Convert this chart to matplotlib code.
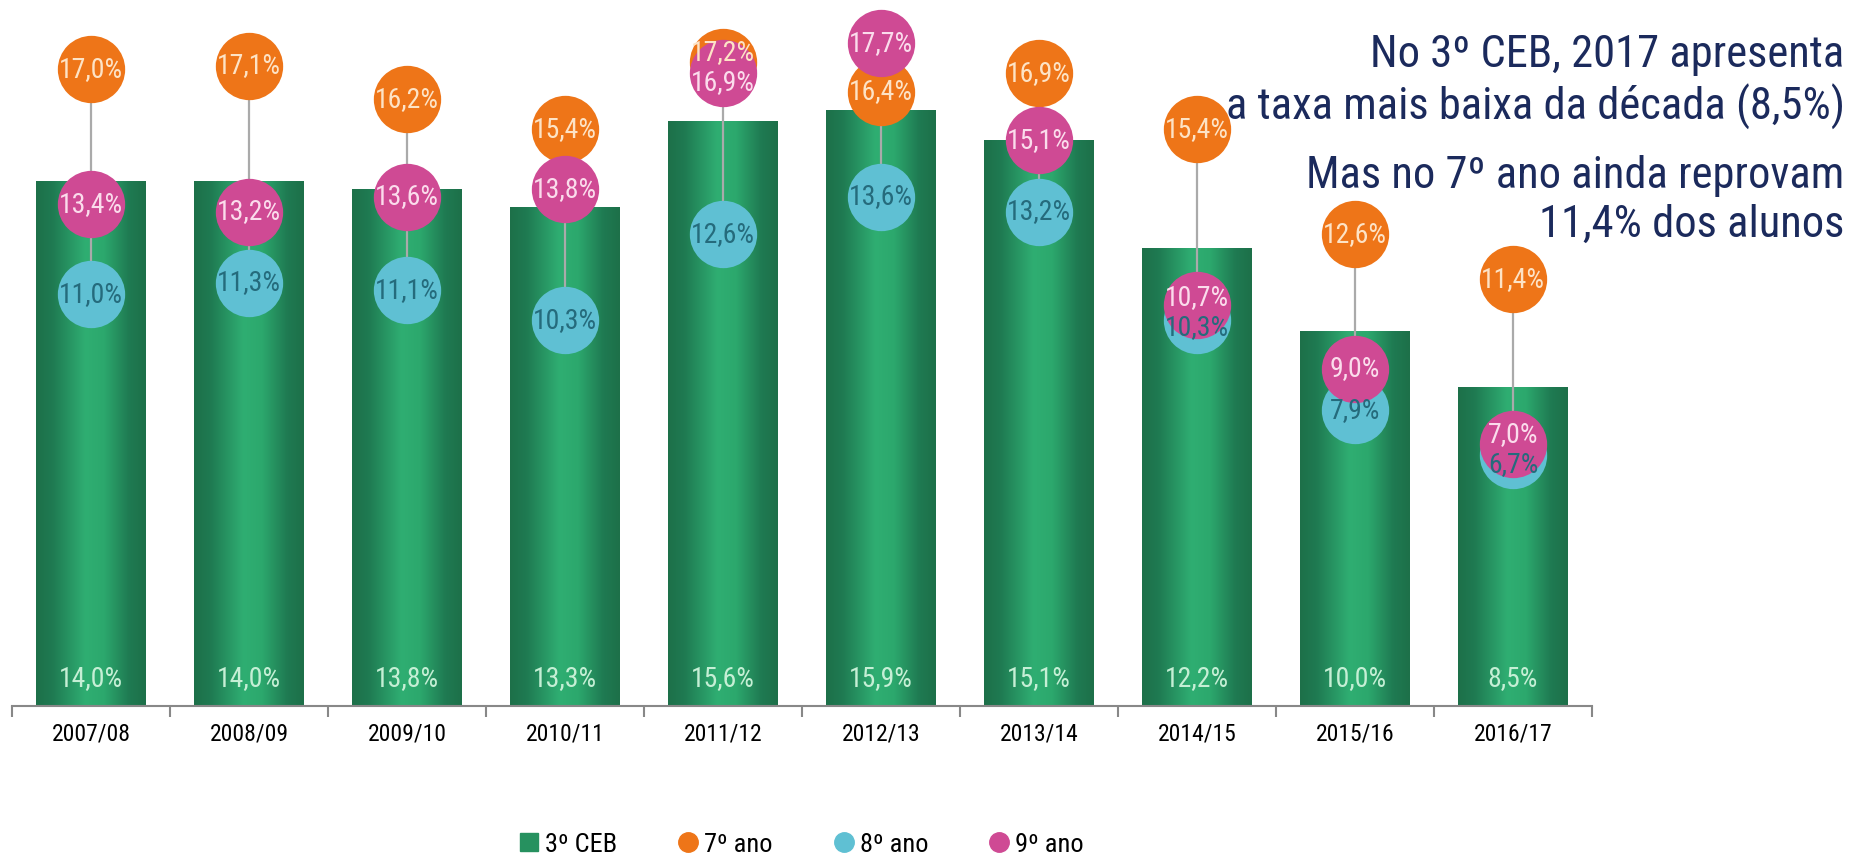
import numpy as np
import matplotlib.pyplot as plt
from matplotlib.colors import LinearSegmentedColormap
from matplotlib.lines import Line2D

# Dados
anos = ['2007/08', '2008/09', '2009/10', '2010/11', '2011/12',
        '2012/13', '2013/14', '2014/15', '2015/16', '2016/17']
ceb3 = [14.0, 14.0, 13.8, 13.3, 15.6, 15.9, 15.1, 12.2, 10.0, 8.5]
ano7 = [17.0, 17.1, 16.2, 15.4, 17.2, 16.4, 16.9, 15.4, 12.6, 11.4]
ano8 = [11.0, 11.3, 11.1, 10.3, 12.6, 13.6, 13.2, 10.3, 7.9, 6.7]
ano9 = [13.4, 13.2, 13.6, 13.8, 16.9, 17.7, 15.1, 10.7, 9.0, 7.0]

# Fonte estreita
plt.rcParams['font.family'] = ['Roboto Condensed', 'DejaVu Sans']
plt.rcParams['font.weight'] = 'normal'

cor7, cor8, cor9 = '#ee7518', '#5fc0d3', '#cf4a94'
txt7, txt8, txt9 = '#fde3c6', '#256b7c', '#fbdcec'

def fmt(v):
    return f'{v:.1f}%'.replace('.', ',')

fig = plt.figure(figsize=(18.69, 8.58), dpi=100)
ax = fig.add_axes([12 / 1869, 0.177, 1580 / 1869, 0.823])

x = np.arange(len(anos))
largura = 0.69

# Barras com gradiente horizontal
verde = LinearSegmentedColormap.from_list(
    'verde', [(0, '#1d7049'), (0.15, '#1f7a52'), (0.45, '#2fae72'),
              (0.62, '#2ca86d'), (0.85, '#1f7a52'), (1, '#1d7049')])
grad = np.linspace(0, 1, 256).reshape(1, -1)
barras = ax.bar(x, ceb3, width=largura, color='#26915f', zorder=1)
for b in barras:
    x0, w, h = b.get_x(), b.get_width(), b.get_height()
    ax.imshow(grad, cmap=verde, aspect='auto', extent=[x0, x0 + w, 0, h],
              zorder=1.5, interpolation='bicubic')

for i, v in enumerate(ceb3):
    ax.text(x[i], 0.75, fmt(v), ha='center', va='center', fontsize=20,
            color='#c5efd5', zorder=6)

# Linha vertical entre os anos
lo = np.minimum(np.minimum(ano7, ano8), ano9)
hi = np.maximum(np.maximum(ano7, ano8), ano9)
ax.vlines(x, lo, hi, color='#aaaaaa', lw=1.6, zorder=2)

s = 2350
ax.scatter(x, ano8, s=s, color=cor8, zorder=3, linewidths=0)
ax.scatter(x, ano7, s=s, color=cor7, zorder=4, linewidths=0)
ax.scatter(x, ano9, s=s, color=cor9, zorder=5, linewidths=0)

# Rótulos: afastar os que ficam quase sobrepostos
sep = 0.8
for i in range(len(anos)):
    pos = {'7': ano7[i], '8': ano8[i], '9': ano9[i]}
    ordem = sorted(pos, key=lambda k: pos[k])
    for a, b in zip(ordem[:-1], ordem[1:]):
        if pos[b] - pos[a] < sep:
            m = (pos[a] + pos[b]) / 2
            pos[a], pos[b] = m - sep / 2, m + sep / 2
    ax.text(x[i], pos['8'], fmt(ano8[i]), ha='center', va='center',
            fontsize=20, color=txt8, zorder=6)
    ax.text(x[i], pos['7'], fmt(ano7[i]), ha='center', va='center',
            fontsize=20, color=txt7, zorder=6)
    ax.text(x[i], pos['9'], fmt(ano9[i]), ha='center', va='center',
            fontsize=20, color=txt9, zorder=6)

ax.set_xlim(-0.5, len(anos) - 0.5)
ax.set_ylim(0, 18.85)
ax.set_xticks(x)
ax.set_xticklabels(anos, fontsize=17)
ax.set_xticks(np.arange(-0.5, len(anos)), minor=True)
ax.tick_params(axis='x', which='major', length=0, pad=12)
ax.tick_params(axis='x', which='minor', length=8, color='#888888', width=1.5)
ax.set_yticks([])
for lado in ['top', 'right', 'left']:
    ax.spines[lado].set_visible(False)
ax.spines['bottom'].set_color('#888888')
ax.spines['bottom'].set_linewidth(1.5)

# Texto de destaque
azul = '#1b2a5c'
fig.text(0.987, 0.936, 'No 3º CEB, 2017 apresenta', ha='right', va='center',
         fontsize=32, color=azul)
fig.text(0.987, 0.875, 'a taxa mais baixa da década (8,5%)', ha='right',
         va='center', fontsize=32, color=azul)
fig.text(0.987, 0.795, 'Mas no 7º ano ainda reprovam', ha='right',
         va='center', fontsize=32, color=azul)
fig.text(0.987, 0.738, '11,4% dos alunos', ha='right', va='center',
         fontsize=32, color=azul)

# Legenda
handles = [
    Line2D([], [], marker='s', ls='', color='#26915f', markersize=13),
    Line2D([], [], marker='o', ls='', color=cor7, markersize=14),
    Line2D([], [], marker='o', ls='', color=cor8, markersize=14),
    Line2D([], [], marker='o', ls='', color=cor9, markersize=14),
]
fig.legend(handles, ['3º CEB', '7º ano', '8º ano', '9º ano'], ncol=4,
           loc='lower center', bbox_to_anchor=(0.428, -0.026), frameon=False,
           fontsize=19, handletextpad=0.1, columnspacing=2.2,
           handlelength=1.0)

fig.savefig('out.png', dpi=100)
